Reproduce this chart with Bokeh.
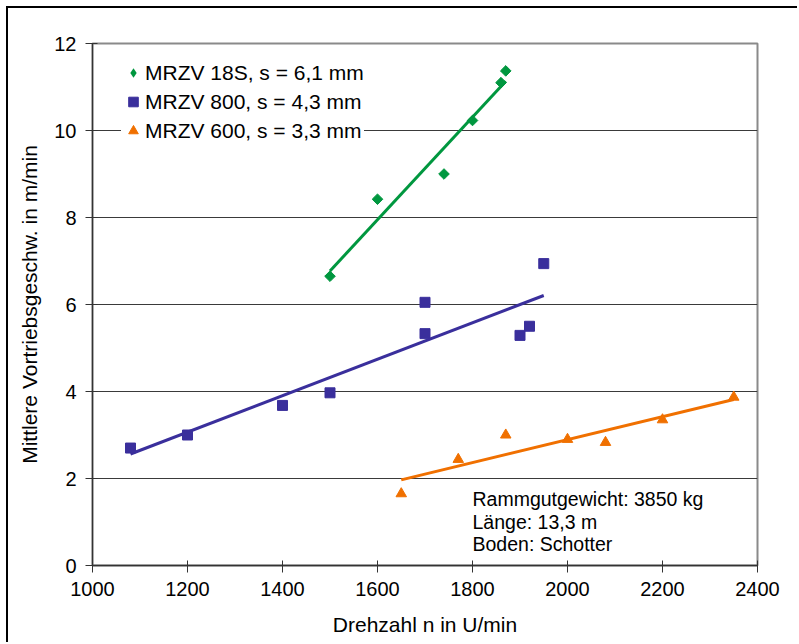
import numpy as np
from bokeh.plotting import figure
from bokeh.models import Legend, LegendItem, ColumnDataSource, Range1d, FixedTicker
from bokeh.core.properties import value
from bokeh.embed import file_html
from bokeh.resources import INLINE

# ---- data ----
x_18s = [1500, 1600, 1740, 1800, 1860, 1870]
y_18s = [6.65, 8.42, 9.0, 10.23, 11.1, 11.37]

x_800 = [1080, 1200, 1400, 1500, 1700, 1700, 1900, 1920, 1950]
y_800 = [2.70, 3.00, 3.68, 3.97, 6.05, 5.33, 5.29, 5.50, 6.94]

x_600 = [1650, 1770, 1870, 2000, 2080, 2200, 2350]
y_600 = [1.65, 2.44, 3.00, 2.90, 2.83, 3.35, 3.87]

series_labels = ["MRZV 18S, s = 6,1 mm", "MRZV 800, s = 4,3 mm", "MRZV 600, s = 3,3 mm"]
x_ticks = [1000, 1200, 1400, 1600, 1800, 2000, 2200, 2400]
y_ticks = [0, 2, 4, 6, 8, 10, 12]
info_lines = ["Rammgutgewicht: 3850 kg", "Länge: 13,3 m", "Boden: Schotter"]
info_x = [1800, 1800, 1800]
info_y = [1.54, 1.01, 0.50]

x_label = "Drehzahl n in U/min"
y_label = "Mittlere Vortriebsgeschw. in m/min"

GREEN = "#00973F"
BLUE = "#3A2F9C"
ORANGE = "#F07000"
FONT = "Liberation Sans"

p = figure(width=791, height=636,
           x_range=Range1d(1000, 2400), y_range=Range1d(0, 12),
           output_backend="svg", toolbar_location=None,
           min_border_left=84, min_border_right=42,
           min_border_top=35, min_border_bottom=79)
p.styles = {"margin-left": "6px", "margin-top": "6px",
            "border-left": "2px solid black", "border-top": "2px solid black"}

p.background_fill_color = "white"
p.border_fill_color = "white"
p.outline_line_color = "#8a8a8a"
p.outline_line_width = 2

p.xgrid.visible = False
p.ygrid.grid_line_color = "#3a3a3a"
p.ygrid.grid_line_width = 1

for ax in (p.xaxis[0], p.yaxis[0]):
    ax.axis_line_color = "#333333"
    ax.axis_line_width = 1.3
    ax.major_tick_line_color = "#333333"
    ax.major_tick_in = 5
    ax.major_tick_out = 7
    ax.minor_tick_line_color = None
    ax.major_label_text_font = FONT
    ax.major_label_text_font_size = "20px"
    ax.major_label_text_color = "black"
    ax.axis_label_text_font = FONT
    ax.axis_label_text_font_size = "21px"
    ax.axis_label_text_font_style = "normal"
    ax.axis_label_text_color = "black"

p.xaxis.ticker = FixedTicker(ticks=x_ticks)
p.yaxis.ticker = FixedTicker(ticks=y_ticks)
p.xaxis.axis_label = x_label
p.yaxis.axis_label = y_label
p.xaxis.major_label_standoff = 9
p.xaxis.axis_label_standoff = 14
p.yaxis.major_label_standoff = 9
p.yaxis.axis_label_standoff = 10


def trend(xs, ys):
    k, d = np.polyfit(xs, ys, 1)
    xe = [min(xs), max(xs)]
    return xe, [k * v + d for v in xe]


# trend lines
for xs, ys, col in ((x_18s, y_18s, GREEN), (x_800, y_800, BLUE), (x_600, y_600, ORANGE)):
    tx, ty = trend(xs, ys)
    p.line(tx, ty, line_color=col, line_width=3)

# markers
p.scatter(x_18s, y_18s, marker="square", size=7.5, angle=np.pi / 4,
          fill_color=GREEN, line_color=GREEN)
r2 = p.scatter(x_800, y_800, marker="square", size=10,
               fill_color=BLUE, line_color=BLUE)
r3 = p.scatter(x_600, y_600, marker="triangle", size=10.5,
               fill_color=ORANGE, line_color=ORANGE)
# legend-only diamond glyph (the legend ignores a marker's angle); size 0 on the plot
r1 = p.scatter(x_18s, y_18s, marker="diamond", size=0,
               fill_color=GREEN, line_color=None)

legend = Legend(items=[LegendItem(label=series_labels[0], renderers=[r1]),
                       LegendItem(label=series_labels[1], renderers=[r2]),
                       LegendItem(label=series_labels[2], renderers=[r3])],
                location=(29, 422),
                background_fill_color="white", background_fill_alpha=1.0,
                border_line_color=None,
                padding=10, spacing=4,
                glyph_width=24, glyph_height=25, label_height=25,
                label_standoff=0,
                label_text_font=FONT, label_text_font_size="21px",
                label_text_color="black")
p.add_layout(legend, "center")

# info text
src = ColumnDataSource(dict(x=info_x, y=info_y, t=info_lines))
p.text(x="x", y="y", text="t", source=src, text_font=value(FONT),
       text_font_size="19.5px", text_baseline="middle", text_align="left",
       text_color="black")

open("out.html", "w").write(file_html(p, INLINE))
